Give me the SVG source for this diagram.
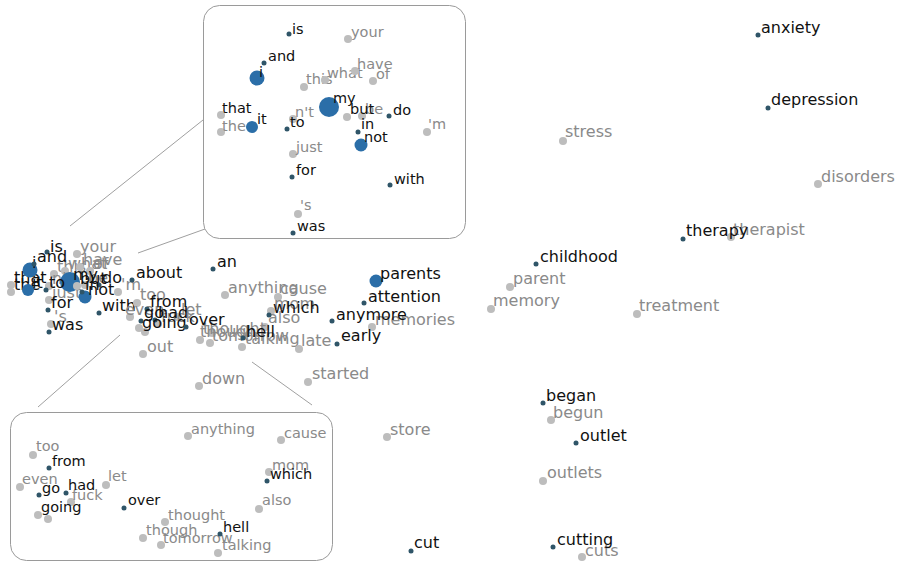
<svg xmlns="http://www.w3.org/2000/svg" width="900" height="562" viewBox="0 0 900 562">
<style>
text{font-family:"DejaVu Sans","Liberation Sans",sans-serif;}
.m{font-size:16px;}
.s{font-size:14.5px;}
.k{fill:#111;}
.g{fill:#8a8a8a;}
.dk{fill:#2f5568;}
.gd{fill:#bdbdbd;}
.bl{fill:#2b6ea8;}
.box{fill:#fff;stroke:#9a9a9a;stroke-width:1;}
.cn{stroke:#a0a0a0;stroke-width:1;fill:none;}
</style>
<rect width="900" height="562" fill="#fff"/>
<g id="connectors">
<line class="cn" x1="70" y1="226" x2="203" y2="120"/>
<line class="cn" x1="138" y1="253" x2="205" y2="229"/>
<line class="cn" x1="120" y1="335" x2="38" y2="407"/>
<line class="cn" x1="252" y1="362" x2="312" y2="405"/>
</g>
<!-- main plot: left cluster -->
<g id="cluster-left" class="m">
<g id="c-that"><circle class="gd" cx="11" cy="285" r="4"/><text class="k" x="14" y="283">that</text></g>
<g id="c-the"><circle class="gd" cx="11" cy="292" r="4"/><text class="k" x="14" y="290">the</text></g>
<g id="c-your"><circle class="gd" cx="77" cy="254" r="4"/><text class="g" x="80" y="252">your</text></g>
<g id="c-this"><circle class="gd" cx="54" cy="274" r="4"/><text class="g" x="57" y="272">this</text></g>
<g id="c-what"><circle class="gd" cx="65" cy="271" r="4"/><text class="g" x="68" y="269">what</text></g>
<g id="c-have"><circle class="gd" cx="80" cy="267" r="4"/><text class="g" x="83" y="265">have</text></g>
<g id="c-of"><circle class="gd" cx="90" cy="271" r="4"/><text class="g" x="93" y="269">of</text></g>
<g id="c-nt"><circle class="gd" cx="49" cy="286" r="4"/><text class="g" x="52" y="284">n't</text></g>
<g id="c-be"><circle class="gd" cx="85" cy="285" r="4"/><text class="g" x="88" y="283">be</text></g>
<g id="c-m"><circle class="gd" cx="118" cy="292" r="4"/><text class="g" x="121" y="290">'m</text></g>
<g id="c-just"><circle class="gd" cx="49" cy="300" r="4"/><text class="g" x="52" y="298">just</text></g>
<g id="c-s"><circle class="gd" cx="51" cy="324" r="4"/><text class="g" x="54" y="322">'s</text></g>
<g id="c-i"><circle class="bl" cx="30" cy="270" r="7.5"/><text class="k" x="32" y="268">i</text></g>
<g id="c-my"><circle class="bl" cx="70" cy="282" r="10"/><text class="k" x="73" y="280">my</text></g>
<g id="c-it"><circle class="bl" cx="28" cy="290" r="6"/><text class="k" x="32" y="288">it</text></g>
<g id="c-not"><circle class="bl" cx="85" cy="297" r="6.5"/><text class="k" x="88" y="295">not</text></g>
<g id="c-but"><circle class="gd" cx="77" cy="286" r="4"/><text class="k" x="80" y="284">but</text></g>
<g id="c-is"><circle class="dk" cx="47" cy="252" r="2.5"/><text class="k" x="50" y="252">is</text></g>
<g id="c-and"><circle class="dk" cx="34" cy="264" r="2.5"/><text class="k" x="37" y="262">and</text></g>
<g id="c-do"><circle class="dk" cx="99" cy="285" r="2.5"/><text class="k" x="102" y="283">do</text></g>
<g id="c-to"><circle class="dk" cx="46" cy="290" r="2.5"/><text class="k" x="49" y="288">to</text></g>
<g id="c-in"><circle class="dk" cx="82" cy="292" r="2.5"/><text class="k" x="85" y="290">in</text></g>
<g id="c-for"><circle class="dk" cx="48" cy="310" r="2.5"/><text class="k" x="51" y="308">for</text></g>
<g id="c-with"><circle class="dk" cx="99" cy="313" r="2.5"/><text class="k" x="102" y="311">with</text></g>
<g id="c-was"><circle class="dk" cx="49" cy="332" r="2.5"/><text class="k" x="52" y="330">was</text></g>
</g>
<!-- main plot: middle cluster -->
<g id="cluster-mid" class="m">
<g id="n-too"><circle class="gd" cx="137" cy="303" r="4"/><text class="g" x="140" y="300">too</text></g>
<g id="n-even"><circle class="gd" cx="130" cy="317" r="4"/><text class="g" x="125" y="315">even</text></g>
<g id="n-let"><circle class="gd" cx="178" cy="317" r="4"/><text class="g" x="181" y="315">let</text></g>
<g id="n-fuck"><circle class="gd" cx="158" cy="324" r="4"/><text class="g" x="161" y="322">fuck</text></g>
<g id="n-g1"><circle class="gd" cx="139" cy="328" r="4"/></g>
<g id="n-g2"><circle class="gd" cx="145" cy="332" r="4"/></g>
<g id="n-out"><circle class="gd" cx="143" cy="354" r="4"/><text class="g" x="147" y="352">out</text></g>
<g id="n-down"><circle class="gd" cx="199" cy="386" r="4"/><text class="g" x="202" y="384">down</text></g>
<g id="n-anything"><circle class="gd" cx="225" cy="295" r="4"/><text class="g" x="228" y="293">anything</text></g>
<g id="n-cause"><circle class="gd" cx="278" cy="297" r="4"/><text class="g" x="280" y="294">cause</text></g>
<g id="n-mom"><circle class="gd" cx="271" cy="311" r="4"/><text class="g" x="274" y="309">mom</text></g>
<g id="n-also"><circle class="gd" cx="265" cy="327" r="4"/><text class="g" x="268" y="323">also</text></g>
<g id="n-thought"><circle class="gd" cx="212" cy="333" r="4"/><text class="g" x="203" y="334">thought</text></g>
<g id="n-though"><circle class="gd" cx="200" cy="340" r="4"/><text class="g" x="200" y="337">though</text></g>
<g id="n-tomorrow"><circle class="gd" cx="210" cy="343" r="4"/><text class="g" x="212" y="341">tomorrow</text></g>
<g id="n-talking"><circle class="gd" cx="242" cy="347" r="4"/><text class="g" x="245" y="344">talking</text></g>
<g id="n-late"><circle class="gd" cx="299" cy="349" r="4"/><text class="g" x="301" y="346">late</text></g>
<g id="n-started"><circle class="gd" cx="308" cy="382" r="4"/><text class="g" x="312" y="379">started</text></g>
<g id="n-memories"><circle class="gd" cx="372" cy="327" r="4"/><text class="g" x="375" y="325">memories</text></g>
<g id="n-about"><circle class="dk" cx="132" cy="280" r="2.5"/><text class="k" x="136" y="278">about</text></g>
<g id="n-an"><circle class="dk" cx="213" cy="269" r="2.5"/><text class="k" x="217" y="267">an</text></g>
<g id="n-from"><circle class="dk" cx="147" cy="309" r="2.5"/><text class="k" x="150" y="307">from</text></g>
<g id="n-go"><circle class="dk" cx="141" cy="321" r="2.5"/><text class="k" x="144" y="318">go</text></g>
<g id="n-had"><circle class="dk" cx="155" cy="320" r="2.5"/><text class="k" x="158" y="318">had</text></g>
<g id="n-going"><text class="k" x="142" y="328">going</text></g>
<g id="n-over"><circle class="dk" cx="186" cy="327" r="2.5"/><text class="k" x="189" y="325">over</text></g>
<g id="n-which"><circle class="dk" cx="269" cy="315" r="2.5"/><text class="k" x="273" y="313">which</text></g>
<g id="n-hell"><circle class="dk" cx="243" cy="338" r="2.5"/><text class="k" x="246" y="337">hell</text></g>
<g id="n-parents"><circle class="bl" cx="376" cy="281" r="6.5"/><text class="k" x="380" y="279">parents</text></g>
<g id="n-attention"><circle class="dk" cx="364" cy="303" r="2.5"/><text class="k" x="368" y="302">attention</text></g>
<g id="n-anymore"><circle class="dk" cx="332" cy="321" r="2.5"/><text class="k" x="336" y="320">anymore</text></g>
<g id="n-early"><circle class="dk" cx="337" cy="344" r="2.5"/><text class="k" x="341" y="341">early</text></g>
</g>
<!-- main plot: right part -->
<g id="cluster-right" class="m">
<g id="n-store"><circle class="gd" cx="387" cy="437" r="4"/><text class="g" x="390" y="435">store</text></g>
<g id="n-begun"><circle class="gd" cx="551" cy="420" r="4"/><text class="g" x="553" y="418">begun</text></g>
<g id="n-outlets"><circle class="gd" cx="543" cy="481" r="4"/><text class="g" x="547" y="478">outlets</text></g>
<g id="n-cuts"><circle class="gd" cx="582" cy="557" r="4"/><text class="g" x="585" y="556">cuts</text></g>
<g id="n-parent"><circle class="gd" cx="510" cy="287" r="4"/><text class="g" x="513" y="284">parent</text></g>
<g id="n-memory"><circle class="gd" cx="491" cy="309" r="4"/><text class="g" x="493" y="306">memory</text></g>
<g id="n-treatment"><circle class="gd" cx="637" cy="314" r="4"/><text class="g" x="639" y="311">treatment</text></g>
<g id="n-therapist"><circle class="gd" cx="731" cy="237" r="4"/><text class="g" x="733" y="235">therapist</text></g>
<g id="n-stress"><circle class="gd" cx="563" cy="141" r="4"/><text class="g" x="565" y="137">stress</text></g>
<g id="n-disorders"><circle class="gd" cx="818" cy="184" r="4"/><text class="g" x="821" y="182">disorders</text></g>
<g id="n-began"><circle class="dk" cx="543" cy="403" r="2.5"/><text class="k" x="546" y="401">began</text></g>
<g id="n-outlet"><circle class="dk" cx="576" cy="443" r="2.5"/><text class="k" x="580" y="441">outlet</text></g>
<g id="n-cut"><circle class="dk" cx="411" cy="551" r="2.5"/><text class="k" x="414" y="548">cut</text></g>
<g id="n-cutting"><circle class="dk" cx="553" cy="547" r="2.5"/><text class="k" x="557" y="545">cutting</text></g>
<g id="n-childhood"><circle class="dk" cx="536" cy="264" r="2.5"/><text class="k" x="540" y="262">childhood</text></g>
<g id="n-therapy"><circle class="dk" cx="683" cy="239" r="2.5"/><text class="k" x="686" y="236">therapy</text></g>
<g id="n-anxiety"><circle class="dk" cx="758" cy="35" r="2.5"/><text class="k" x="761" y="33">anxiety</text></g>
<g id="n-depression"><circle class="dk" cx="768" cy="108" r="2.5"/><text class="k" x="771" y="105">depression</text></g>
</g>
<!-- top inset -->
<g id="inset-top" class="s">
<rect class="box" x="203.5" y="5.5" width="262" height="233" rx="16"/>
<g id="t-your"><circle class="gd" cx="348" cy="39" r="4"/><text class="g" x="351" y="37">your</text></g>
<g id="t-this"><circle class="gd" cx="304" cy="87" r="4"/><text class="g" x="306" y="84">this</text></g>
<g id="t-what"><circle class="gd" cx="325" cy="80" r="4"/><text class="g" x="327" y="78">what</text></g>
<g id="t-have"><circle class="gd" cx="355" cy="71" r="4"/><text class="g" x="357" y="69">have</text></g>
<g id="t-of"><circle class="gd" cx="373" cy="81" r="4"/><text class="g" x="376" y="79">of</text></g>
<g id="t-nt"><circle class="gd" cx="293" cy="119" r="4"/><text class="g" x="295" y="117">n't</text></g>
<g id="t-be"><circle class="gd" cx="362" cy="116" r="4"/><text class="g" x="365" y="114">be</text></g>
<g id="t-m"><circle class="gd" cx="427" cy="132" r="4"/><text class="g" x="428" y="129">'m</text></g>
<g id="t-that"><circle class="gd" cx="221" cy="115" r="4"/><text class="k" x="222" y="113">that</text></g>
<g id="t-the"><circle class="gd" cx="221" cy="132" r="4"/><text class="g" x="222" y="131">the</text></g>
<g id="t-just"><circle class="gd" cx="293" cy="154" r="4"/><text class="g" x="296" y="152">just</text></g>
<g id="t-s"><circle class="gd" cx="298" cy="214" r="4"/><text class="g" x="300" y="210">'s</text></g>
<g id="t-but"><circle class="gd" cx="347" cy="117" r="4"/><text class="k" x="350" y="114">but</text></g>
<g id="t-i"><circle class="bl" cx="257" cy="78" r="7.5"/><text class="k" x="259" y="77">i</text></g>
<g id="t-my"><circle class="bl" cx="329" cy="107" r="10"/><text class="k" x="333" y="103">my</text></g>
<g id="t-it"><circle class="bl" cx="252" cy="127" r="6"/><text class="k" x="257" y="124">it</text></g>
<g id="t-not"><circle class="bl" cx="361" cy="145" r="6.5"/><text class="k" x="364" y="142">not</text></g>
<g id="t-is"><circle class="dk" cx="289" cy="34" r="2.5"/><text class="k" x="292" y="34">is</text></g>
<g id="t-and"><circle class="dk" cx="264" cy="63" r="2.5"/><text class="k" x="268" y="61">and</text></g>
<g id="t-do"><circle class="dk" cx="389" cy="116" r="2.5"/><text class="k" x="393" y="115">do</text></g>
<g id="t-to"><circle class="dk" cx="287" cy="129" r="2.5"/><text class="k" x="290" y="127">to</text></g>
<g id="t-in"><circle class="dk" cx="358" cy="132" r="2.5"/><text class="k" x="361" y="129">in</text></g>
<g id="t-for"><circle class="dk" cx="292" cy="177" r="2.5"/><text class="k" x="296" y="175">for</text></g>
<g id="t-with"><circle class="dk" cx="390" cy="185" r="2.5"/><text class="k" x="394" y="184">with</text></g>
<g id="t-was"><circle class="dk" cx="293" cy="233" r="2.5"/><text class="k" x="297" y="231">was</text></g>
</g>
<!-- bottom inset -->
<g id="inset-bottom" class="s">
<rect class="box" x="10.5" y="412.5" width="322" height="148" rx="16"/>
<g id="b-anything"><circle class="gd" cx="188" cy="436" r="4"/><text class="g" x="191" y="434">anything</text></g>
<g id="b-cause"><circle class="gd" cx="281" cy="440" r="4"/><text class="g" x="284" y="438">cause</text></g>
<g id="b-too"><circle class="gd" cx="33" cy="455" r="4"/><text class="g" x="36" y="451">too</text></g>
<g id="b-mom"><circle class="gd" cx="269" cy="472" r="4"/><text class="g" x="272" y="470">mom</text></g>
<g id="b-even"><circle class="gd" cx="20" cy="487" r="4"/><text class="g" x="22" y="484">even</text></g>
<g id="b-let"><circle class="gd" cx="106" cy="485" r="4"/><text class="g" x="108" y="481">let</text></g>
<g id="b-fuck"><circle class="gd" cx="71" cy="502" r="4"/><text class="g" x="72" y="500">fuck</text></g>
<g id="b-g1"><circle class="gd" cx="38" cy="515" r="4"/></g>
<g id="b-g2"><circle class="gd" cx="48" cy="519" r="4"/></g>
<g id="b-also"><circle class="gd" cx="259" cy="509" r="4"/><text class="g" x="262" y="505">also</text></g>
<g id="b-thought"><circle class="gd" cx="165" cy="522" r="4"/><text class="g" x="168" y="520">thought</text></g>
<g id="b-though"><circle class="gd" cx="143" cy="538" r="4"/><text class="g" x="146" y="535">though</text></g>
<g id="b-tomorrow"><circle class="gd" cx="161" cy="545" r="4"/><text class="g" x="163" y="543">tomorrow</text></g>
<g id="b-talking"><circle class="gd" cx="218" cy="553" r="4"/><text class="g" x="222" y="550">talking</text></g>
<g id="b-from"><circle class="dk" cx="49" cy="468" r="2.5"/><text class="k" x="52" y="466">from</text></g>
<g id="b-which"><circle class="dk" cx="267" cy="481" r="2.5"/><text class="k" x="270" y="479">which</text></g>
<g id="b-go"><circle class="dk" cx="39" cy="495" r="2.5"/><text class="k" x="42" y="493">go</text></g>
<g id="b-had"><circle class="dk" cx="66" cy="493" r="2.5"/><text class="k" x="68" y="490">had</text></g>
<g id="b-going"><text class="k" x="41" y="512">going</text></g>
<g id="b-over"><circle class="dk" cx="124" cy="508" r="2.5"/><text class="k" x="128" y="505">over</text></g>
<g id="b-hell"><circle class="dk" cx="220" cy="534" r="2.5"/><text class="k" x="223" y="532">hell</text></g>
</g>
</svg>
